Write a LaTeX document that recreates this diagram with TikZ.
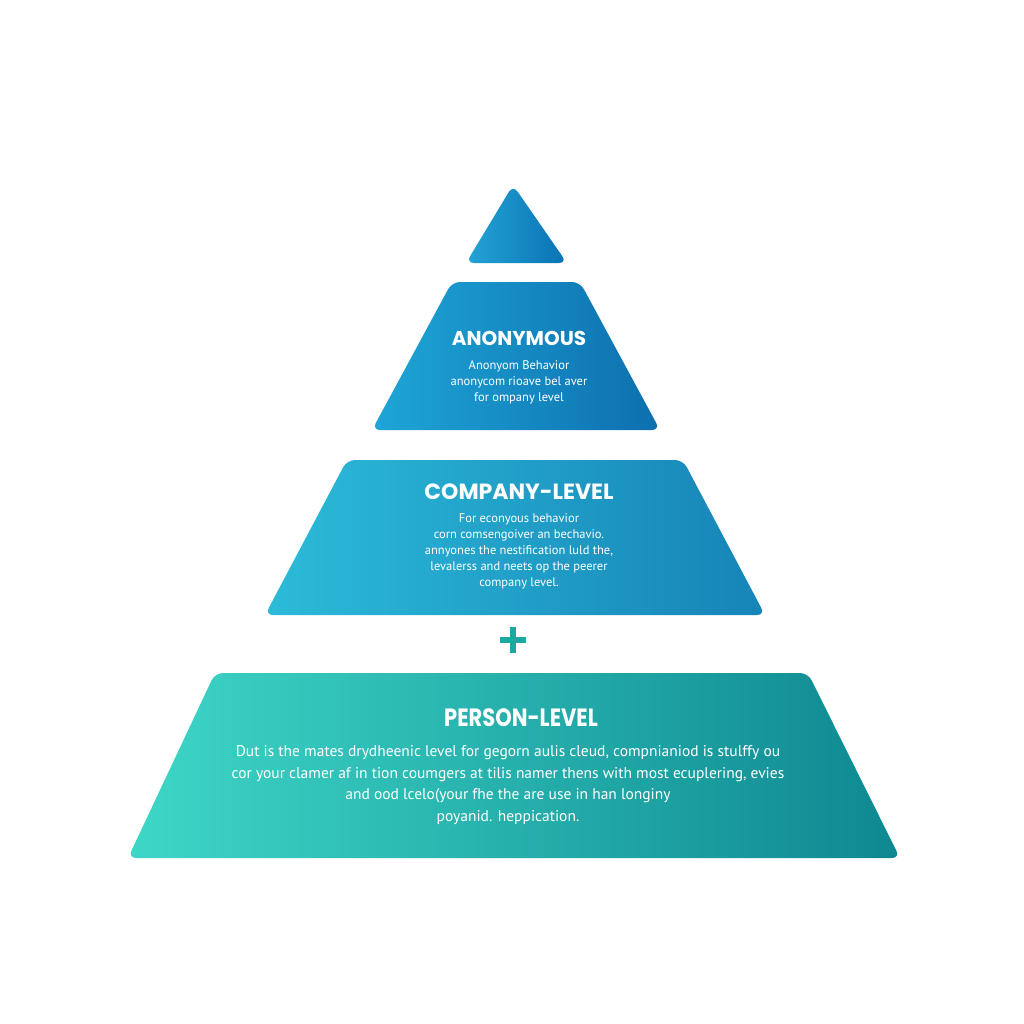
\documentclass[tikz,border=0pt]{standalone}
\usepackage{fontspec}
\setmainfont{PT Sans}
\newfontfamily\titlefont{Poppins}
\definecolor{triL}{HTML}{22A3D6}
\definecolor{triR}{HTML}{0B72B3}
\definecolor{tBL}{HTML}{1EA6D7}
\definecolor{tBR}{HTML}{0D6FAE}
\definecolor{tCL}{HTML}{2CBBD9}
\definecolor{tCR}{HTML}{1684B7}
\definecolor{tDL}{HTML}{3ED7C7}
\definecolor{tDR}{HTML}{0E8891}
\definecolor{plusc}{HTML}{1AA8A0}
\begin{document}
\begin{tikzpicture}[x=1pt,y=-1pt,
  tier/.style={rounded corners=8pt},
  ttl/.style={text=white,font=\titlefont\bfseries\fontsize{19}{22}\selectfont,anchor=center},
  body/.style={text=white,align=center,anchor=north,font=\fontsize{12.5}{16}\selectfont},
  bodybig/.style={text=white,align=center,anchor=north,font=\fontsize{15.5}{21.5}\selectfont}]
\useasboundingbox (0,0) rectangle (1024,1024);
\fill[white] (0,0) rectangle (1024,1024);
% tiers
\shade[left color=triL,right color=triR,rounded corners=8pt] (513,185) -- (567,263) -- (466,263) -- cycle;
\shade[tier,left color=tBL,right color=tBR] (452,282) -- (580,282) -- (660,430) -- (372,430) -- cycle;
\shade[tier,left color=tCL,right color=tCR] (347,460) -- (683,460) -- (765,615) -- (265,615) -- cycle;
\shade[tier,left color=tDL,right color=tDR] (215,673) -- (808,673) -- (900,858) -- (128,858) -- cycle;
% plus
\fill[plusc] (510,627) rectangle (516,653);
\fill[plusc] (500,637) rectangle (526,643);
% texts
\node[ttl,font=\titlefont\bfseries\fontsize{20}{22}\selectfont] (t2) at (519,338) {ANONYMOUS};
\node[body] (b2) at (519,357) {Anonyom Behavior\\anonycom rioave bel aver\\for ompany level};
\node[ttl,font=\titlefont\bfseries\fontsize{22}{24}\selectfont] (t3) at (519,492) {COMPANY-LEVEL};
\node[body] (b3) at (519,510) {For econyous behavior\\corn comsengoiver an bechavio.\\annyones the nestification luld the,\\levalerss and neets op the peerer\\company level.};
\node[ttl,font=\titlefont\bfseries\fontsize{25}{28}\selectfont,xscale=0.84,transform shape] (t4) at (521,718) {PERSON-LEVEL};
\node[bodybig] (b4) at (508,742) {Dut is the mates drydheenic level for gegorn aulis cleud, compnianiod is stulffy ou\\cor your clamer af in tion coumgers at tilis namer thens with most ecuplering, evies\\and ood lcelo(your fhe the are use in han longiny\\poyanid. heppication.};
\end{tikzpicture}
\end{document}
